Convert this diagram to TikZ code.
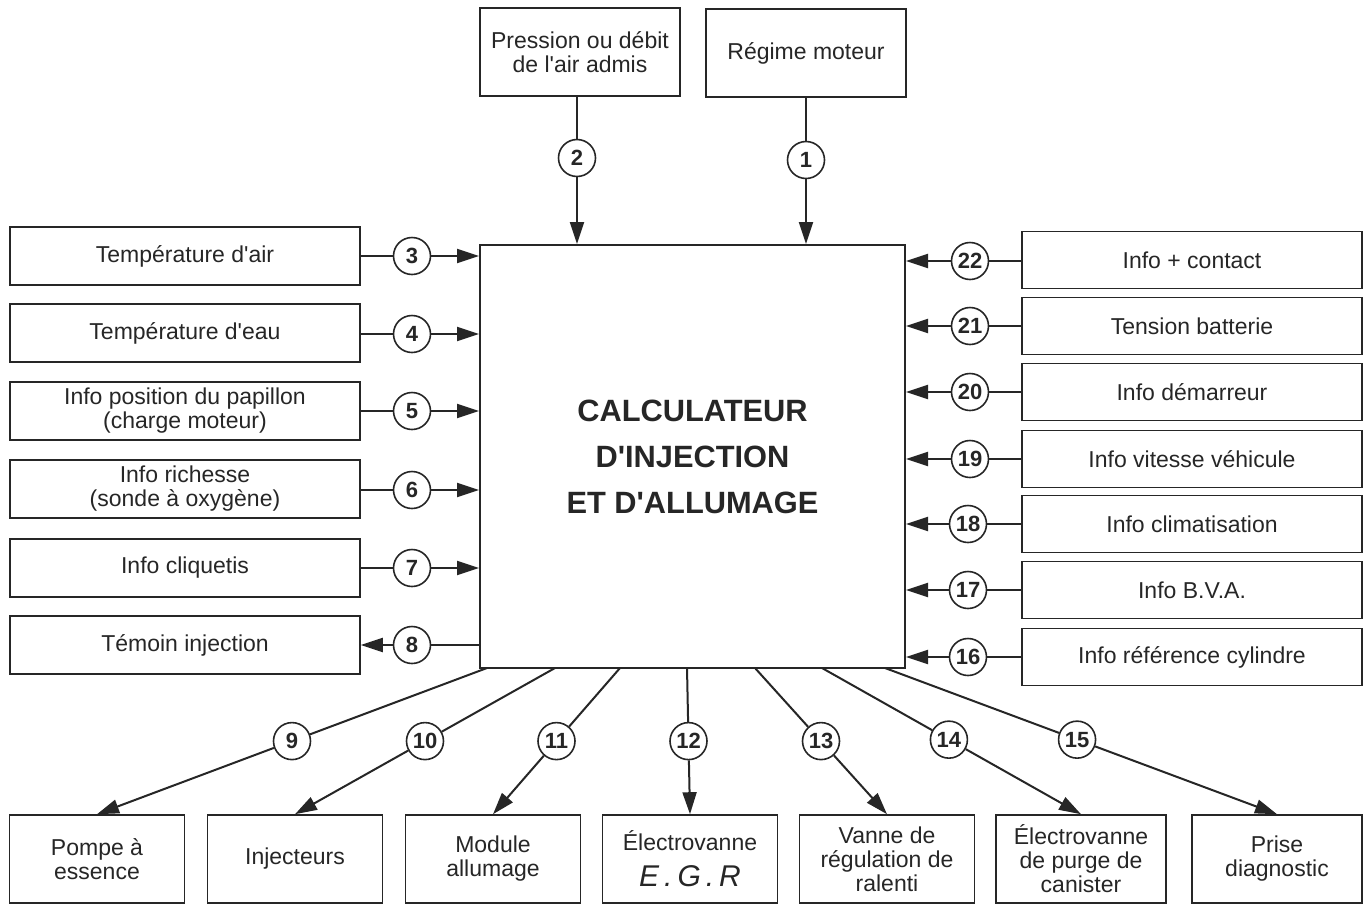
\documentclass[tikz,border=0pt]{standalone}
\usepackage{fontspec}
\setmainfont{Liberation Sans}
\usetikzlibrary{arrows.meta,calc}
\newcommand{\ap}{\textquotesingle}

\begin{document}
\begin{tikzpicture}[x=0.5pt,y=-0.5pt,
  box/.style={draw=black!85, line width=0.8pt, inner sep=2pt, align=center, text=black!85, font=\fontsize{11.5}{12}\selectfont},
  lbox/.style={box, minimum width=175pt, minimum height=29pt},
  rbox/.style={box, minimum width=170pt, minimum height=28.5pt},
  tbox/.style={box, minimum width=100pt, minimum height=44pt},
  bbox/.style={box, minimum width=87.5pt, minimum height=44pt},
  num/.style={draw=black!85, circle, line width=0.8pt, minimum size=18.5pt, inner sep=0pt, fill=white, text=black!85, font=\fontsize{11}{11}\bfseries},
  wire/.style={draw=black!85, line width=1pt},
  arr/.style={wire, -{Triangle[length=11pt,width=7pt]}}]
\useasboundingbox (0,0) rectangle (1370,905);

% calculateur
\node[draw=black!85, line width=1pt, minimum width=212.5pt, minimum height=211.5pt, align=center, text=black!85, font=\fontsize{15.4}{23}\bfseries] (calcul) at (692.5,456.5) {CALCULATEUR\\D\ap INJECTION\\ET D\ap ALLUMAGE};

% entrees en haut
\node[tbox] (t2) at (580,52) {Pression ou débit\\de l\ap air admis};
\node[tbox] (t1) at (806,53) {Régime moteur};
\node[num] (c2) at (577,158) {2};
\node[num] (c1) at (806,160) {1};
\path[wire] (c2 |- t2.south) -- (c2);
\path[arr] (c2) -- (c2 |- calcul.north);
\path[wire] (c1 |- t1.south) -- (c1);
\path[arr] (c1) -- (c1 |- calcul.north);

% capteurs a gauche
\node[lbox] (l3) at (185,256) {Température d\ap air};
\node[lbox] (l4) at (185,333) {Température d\ap eau};
\node[lbox] (l5) at (185,411) {Info position du papillon\\(charge moteur)};
\node[lbox] (l6) at (185,489) {Info richesse\\(sonde à oxygène)};
\node[lbox] (l7) at (185,568) {Info cliquetis};
\node[lbox] (l8) at (185,645) {Témoin injection};
\node[num] (c3) at (412,256) {3};
\node[num] (c4) at (412,334) {4};
\node[num] (c5) at (412,411) {5};
\node[num] (c6) at (412,490) {6};
\node[num] (c7) at (412,568) {7};
\node[num] (c8) at (412,645) {8};
\path[wire] (l3.east |- c3) -- (c3);
\path[arr] (c3) -- (c3 -| calcul.west);
\path[wire] (l4.east |- c4) -- (c4);
\path[arr] (c4) -- (c4 -| calcul.west);
\path[wire] (l5.east |- c5) -- (c5);
\path[arr] (c5) -- (c5 -| calcul.west);
\path[wire] (l6.east |- c6) -- (c6);
\path[arr] (c6) -- (c6 -| calcul.west);
\path[wire] (l7.east |- c7) -- (c7);
\path[arr] (c7) -- (c7 -| calcul.west);
\path[wire] (c8 -| calcul.west) -- (c8);
\path[arr] (c8) -- (l8.east |- c8);

% infos a droite
\node[rbox] (r22) at (1192,260) {Info + contact};
\node[rbox] (r21) at (1192,326) {Tension batterie};
\node[rbox] (r20) at (1192,392) {Info démarreur};
\node[rbox] (r19) at (1192,459) {Info vitesse véhicule};
\node[rbox] (r18) at (1192,524) {Info climatisation};
\node[rbox] (r17) at (1192,590) {Info B.V.A.};
\node[rbox] (r16) at (1192,657) {Info référence cylindre};
\node[num] (c22) at (970,261) {22};
\node[num] (c21) at (970,326) {21};
\node[num] (c20) at (970,392) {20};
\node[num] (c19) at (970,459) {19};
\node[num] (c18) at (968,524) {18};
\node[num] (c17) at (968,590) {17};
\node[num] (c16) at (968,657) {16};
\path[wire] (r22.west |- c22) -- (c22);
\path[arr] (c22) -- (c22 -| calcul.east);
\path[wire] (r21.west |- c21) -- (c21);
\path[arr] (c21) -- (c21 -| calcul.east);
\path[wire] (r20.west |- c20) -- (c20);
\path[arr] (c20) -- (c20 -| calcul.east);
\path[wire] (r19.west |- c19) -- (c19);
\path[arr] (c19) -- (c19 -| calcul.east);
\path[wire] (r18.west |- c18) -- (c18);
\path[arr] (c18) -- (c18 -| calcul.east);
\path[wire] (r17.west |- c17) -- (c17);
\path[arr] (c17) -- (c17 -| calcul.east);
\path[wire] (r16.west |- c16) -- (c16);
\path[arr] (c16) -- (c16 -| calcul.east);

% actionneurs en bas
\node[bbox] (b9) at (97,859) {Pompe à\\essence};
\node[bbox] (b10) at (295,859) {Injecteurs};
\node[bbox] (b11) at (493,859) {Module\\allumage};
\node[bbox, font=\fontsize{11.5}{18}\selectfont] (b12) at (690,859) {Électrovanne\\{\fontsize{15}{16}\itshape E\,.\,G\,.\,R}};
\node[bbox] (b13) at (887,859) {Vanne de\\régulation de\\ralenti};
\node[bbox, minimum width=85pt] (b14) at (1081,859) {Électrovanne\\de purge de\\canister};
\node[bbox, minimum width=85pt] (b15) at (1277,859) {Prise\\diagnostic};
\coordinate (o9) at (487,668);
\coordinate (o10) at (555,668);
\coordinate (o11) at (620,668);
\coordinate (o12) at (687,668);
\coordinate (o13) at (755,668);
\coordinate (o14) at (822,668);
\coordinate (o15) at (885,668);
\node[num] (c9) at ($(o9)!0.5!(b9.north)$) {9};
\node[num] (c10) at ($(o10)!0.5!(b10.north)$) {10};
\node[num] (c11) at ($(o11)!0.5!(b11.north)$) {11};
\node[num] (c12) at ($(o12)!0.5!(b12.north)$) {12};
\node[num] (c13) at ($(o13)!0.5!(b13.north)$) {13};
\node[num] (c14) at ($(o14)!0.49!(b14.north)$) {14};
\node[num] (c15) at ($(o15)!0.49!(b15.north)$) {15};
\path[wire] (o9) -- (c9);
\path[arr] (c9) -- (b9.north);
\path[wire] (o10) -- (c10);
\path[arr] (c10) -- (b10.north);
\path[wire] (o11) -- (c11);
\path[arr] (c11) -- (b11.north);
\path[wire] (o12) -- (c12);
\path[arr] (c12) -- (b12.north);
\path[wire] (o13) -- (c13);
\path[arr] (c13) -- (b13.north);
\path[wire] (o14) -- (c14);
\path[arr] (c14) -- (b14.north);
\path[wire] (o15) -- (c15);
\path[arr] (c15) -- (b15.north);
\end{tikzpicture}
\end{document}
